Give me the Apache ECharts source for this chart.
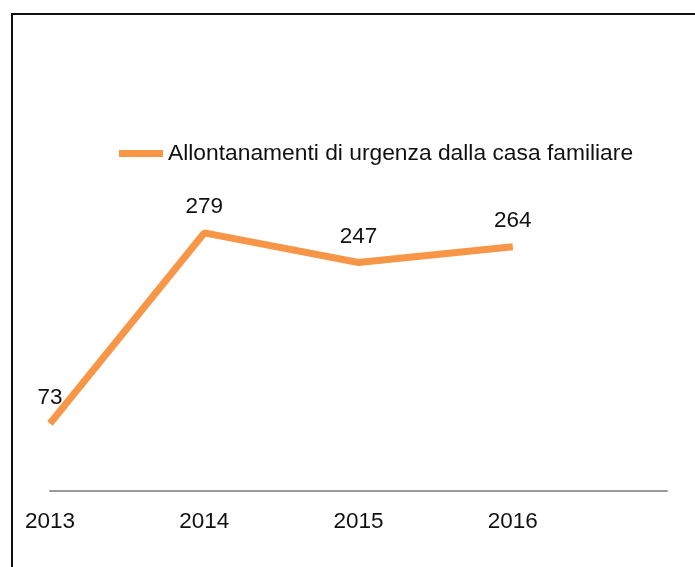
<!DOCTYPE html>
<html>
<head>
<meta charset="utf-8">
<script src="https://cdn.jsdelivr.net/npm/echarts@6/dist/echarts.min.js"></script>
<style>
  html, body { margin: 0; padding: 0; background: #fff; }
  .frame {
    position: absolute;
    left: 11px;
    top: 13px;
    width: 700px;
    height: 600px;
    border-left: 2px solid #111;
    border-top: 2px solid #111;
    box-sizing: border-box;
  }
  #chart { position: absolute; left: 0; top: 0; width: 695px; height: 567px; }
</style>
</head>
<body>
<div class="frame"></div>
<div id="chart"></div>
<script>
// anni sull'asse (l'ultimo slot resta vuoto, come nell'originale)
var years = ['2013', '2014', '2015', '2016', '']
var seriesName = 'Allontanamenti di urgenza dalla casa familiare'
var values = [73, 279, 247, 264]

var chart = echarts.init(document.getElementById('chart'))
var option = {
  animation: false,
  textStyle: { fontFamily: 'Liberation Sans, Arial, sans-serif' },
  legend: {
    data: [seriesName],
    left: 119,
    top: 142,
    padding: 0,
    icon: 'rect',
    itemWidth: 44,
    itemHeight: 7,
    itemGap: 5,
    textStyle: { color: '#111', fontSize: 22.8 }
  },
  grid: {
    left: 50,
    right: 28,
    top: 121,
    bottom: 76
  },
  xAxis: {
    type: 'category',
    data: years,
    boundaryGap: false,
    axisLine: { lineStyle: { color: '#9a9a9a', width: 2 } },
    axisTick: { show: false },
    axisLabel: {
      color: '#111',
      fontSize: 22.5,
      margin: 19
    }
  },
  yAxis: {
    type: 'value',
    min: 0,
    max: 400,
    show: false
  },
  series: [
    {
      name: seriesName,
      type: 'line',
      data: values,
      symbol: 'circle',
      symbolSize: 1,
      itemStyle: { color: '#F79646' },
      lineStyle: { color: '#F79646', width: 7 },
      label: {
        show: true,
        position: 'top',
        distance: 14,
        color: '#111',
        fontSize: 22.5
      }
    }
  ]
}
chart.setOption(option)
</script>
</body>
</html>
